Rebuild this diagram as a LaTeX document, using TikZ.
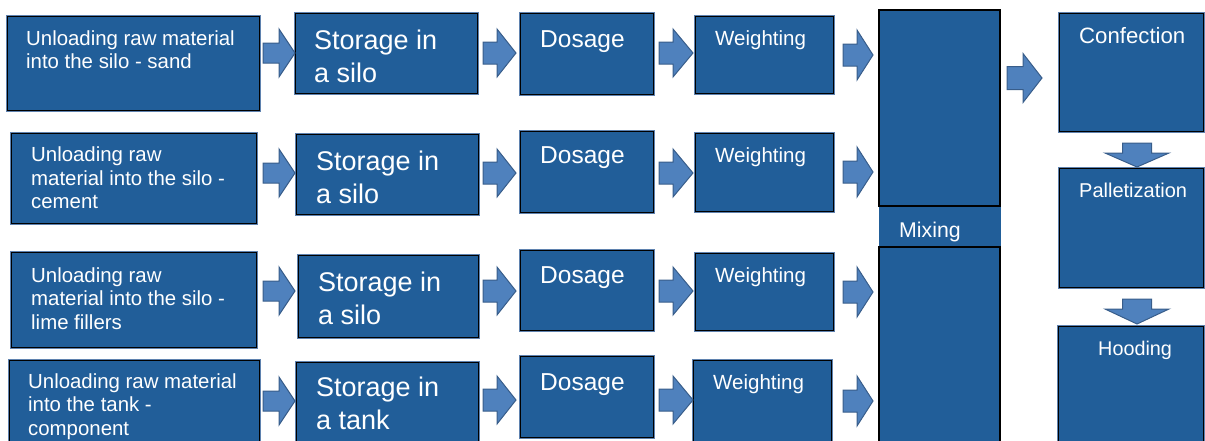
\documentclass[tikz,border=0pt]{standalone}
\usepackage{fontspec}
\setmainfont{Liberation Sans}
\definecolor{boxblue}{RGB}{33,94,153}
\definecolor{arrfill}{RGB}{79,129,189}
\definecolor{arrline}{RGB}{56,93,138}
\definecolor{halo}{RGB}{95,130,175}
\tikzset{
  procbox/.style={draw=black, line width=1.1pt, fill=boxblue, inner sep=0pt, anchor=north west,
    preaction={draw=halo, line width=3pt}},
  plainfill/.style={fill=boxblue, inner sep=0pt, anchor=north west},
  arr/.style={fill=arrfill, draw=arrline, line width=1pt, line join=miter},
  lbl/.style={text=white, align=left, anchor=base west, inner sep=0pt},
  fA/.style={font=\fontsize{20.4}{23.5}\selectfont},
  fS/.style={font=\fontsize{27}{33}\selectfont},
  fD/.style={font=\fontsize{24.5}{28}\selectfont},
  fW/.style={font=\fontsize{20.5}{24}\selectfont},
  pics/rarr/.style args={#1/#2/#3/#4}{code={
    \path[arr] (0,-#3) -- (#2,-#3) -- (#2,-#4) -- (#1,0) -- (#2,#4) -- (#2,#3) -- (0,#3) -- cycle;}},
  pics/darr/.style args={#1/#2/#3/#4}{code={
    \path[arr] (-#3,0) -- (-#3,#2) -- (-#4,#2) -- (0,#1) -- (#4,#2) -- (#3,#2) -- (#3,0) -- cycle;}},
}
\begin{document}
\begin{tikzpicture}[x=1pt,y=-1pt]
\useasboundingbox (0,0) rectangle (1205,440);
\begin{scope}
\clip (0,0) rectangle (1205,440);
% ---- column A
\node[procbox, minimum width=252pt, minimum height=94pt] (a1) at (7,16) {};
\node[procbox, minimum width=245pt, minimum height=90pt] (a2) at (11,133) {};
\node[procbox, minimum width=245pt, minimum height=95pt] (a3) at (11,252) {};
\node[procbox, minimum width=250pt, minimum height=90pt] (a4) at (9,360) {};
% ---- column B
\node[procbox, minimum width=182pt, minimum height=80pt] (b1) at (295,13) {};
\node[procbox, minimum width=182pt, minimum height=80pt] (b2) at (296,134) {};
\node[procbox, minimum width=180pt, minimum height=82pt] (b3) at (298,255) {};
\node[procbox, minimum width=182pt, minimum height=90pt] (b4) at (296,362) {};
% ---- column C
\node[procbox, minimum width=133pt, minimum height=81pt] (c1) at (520,13) {};
\node[procbox, minimum width=133pt, minimum height=81pt] (c2) at (520,131) {};
\node[procbox, minimum width=133pt, minimum height=80pt] (c3) at (520,250) {};
\node[procbox, minimum width=133pt, minimum height=81pt] (c4) at (520,356) {};
% ---- column D
\node[procbox, minimum width=138pt, minimum height=77pt] (d1) at (695,16) {};
\node[procbox, minimum width=138pt, minimum height=78pt] (d2) at (695,133) {};
\node[procbox, minimum width=138pt, minimum height=77pt] (d3) at (695,253) {};
\node[procbox, minimum width=138pt, minimum height=90pt] (d4) at (693,360) {};
% ---- mixing
\node[plainfill, minimum width=122pt, minimum height=440pt] (mix) at (879,10) {};
\draw[black, line width=1.1pt] (mix.north west) rectangle (1000,206);
\draw[black, line width=1.1pt] (879,247) rectangle (1000,452);
% ---- right column
\node[procbox, minimum width=144pt, minimum height=118pt] (conf) at (1059,13) {};
\node[procbox, minimum width=144pt, minimum height=119pt] (pall) at (1059,168) {};
\node[procbox, minimum width=145pt, minimum height=124pt] (hood) at (1058,326) {};
\end{scope}
% ---- labels (base = baseline of last line)
\node[lbl, fA] (ta1) at (26,68.5) {Unloading raw material\\into the silo - sand};
\node[lbl, fA] (ta2) at (31,208.5) {Unloading raw\\material into the silo -\\cement};
\node[lbl, fA] (ta3) at (31,329) {Unloading raw\\material into the silo -\\lime fillers};
\node[lbl, fA] (ta4) at (28,435) {Unloading raw material\\into the tank -\\component};
\node[lbl, fS] (tb1) at (314,82) {Storage in\\a silo};
\node[lbl, fS] (tb2) at (316,203) {Storage in\\a silo};
\node[lbl, fS] (tb3) at (318,324) {Storage in\\a silo};
\node[lbl, fS] (tb4) at (316,429) {Storage in\\a tank};
\node[lbl, fD] (tc1) at (540,47) {Dosage};
\node[lbl, fD] (tc2) at (540,163) {Dosage};
\node[lbl, fD] (tc3) at (540,283) {Dosage};
\node[lbl, fD] (tc4) at (540,390) {Dosage};
\node[lbl, fW] (td1) at (715,45) {Weighting};
\node[lbl, fW] (td2) at (715,162) {Weighting};
\node[lbl, fW] (td3) at (715,282) {Weighting};
\node[lbl, fW] (td4) at (713,389) {Weighting};
\node[lbl, font=\fontsize{21.3}{24}\selectfont] (tmix) at (899,237) {Mixing};
\node[lbl, font=\fontsize{22.2}{26}\selectfont] (tconf) at (1079,43) {Confection};
\node[lbl, font=\fontsize{20}{24}\selectfont] (tpall) at (1079,197) {Palletization};
\node[lbl, font=\fontsize{19.8}{24}\selectfont] (thood) at (1098,355) {Hooding};
% ---- block arrows
\foreach \y in {53,173,291,401} \pic at (263,\y) {rarr=32/16/10/24};
\foreach \y in {53,173,291,400} \pic at (483,\y) {rarr=33/14/11/24};
\foreach \y in {53,173,291,400} \pic at (659,\y) {rarr=34/14/11/24};
\foreach \y in {55,172,292,401} \pic at (843,\y) {rarr=30/14/11/25};
\pic at (1007,78) {rarr=35/16/11.5/24.5};
\pic at (1137,143) {darr=24/10/14.5/32};
\pic at (1137,299) {darr=25/10/14.5/32};
\end{tikzpicture}
\end{document}
